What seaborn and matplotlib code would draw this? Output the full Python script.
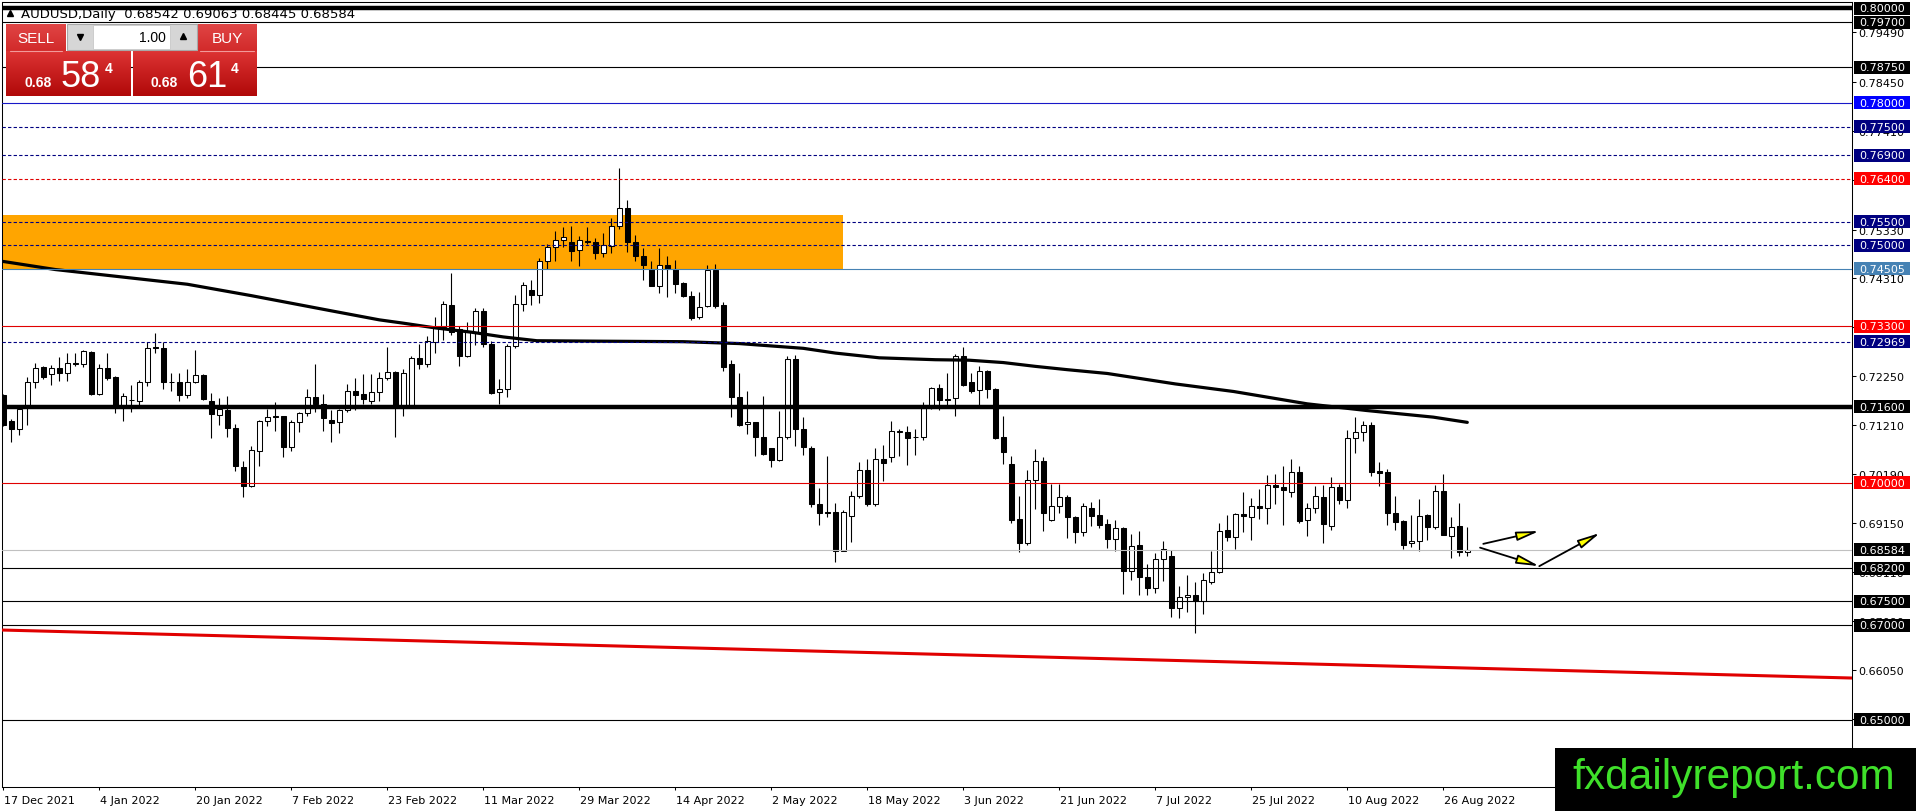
import matplotlib
matplotlib.use("Agg")
import matplotlib.pyplot as plt
import matplotlib.transforms as mtransforms
import matplotlib.colors as mcolors
from matplotlib.patches import Rectangle, FancyArrowPatch
import numpy as np
import pandas as pd
import seaborn as sns

# ---------------- data ----------------
header_text = "AUDUSD,Daily  0.68542 0.69063 0.68445 0.68584"

date_labels = ["17 Dec 2021", "4 Jan 2022", "20 Jan 2022", "7 Feb 2022", "23 Feb 2022",
               "11 Mar 2022", "29 Mar 2022", "14 Apr 2022", "2 May 2022", "18 May 2022",
               "3 Jun 2022", "21 Jun 2022", "7 Jul 2022", "25 Jul 2022", "10 Aug 2022",
               "26 Aug 2022"]
date_label_bars = [0, 12, 24, 36, 48, 60, 72, 84, 96, 108, 120, 132, 144, 156, 168, 180]

opens = [0.7185, 0.7130, 0.7112, 0.7162, 0.7213, 0.7244, 0.7228, 0.7241, 0.7232, 0.7253,
         0.7251, 0.7275, 0.7187, 0.7241, 0.7223, 0.7162, 0.7175, 0.7173, 0.7211, 0.7286,
         0.7284, 0.7212, 0.7211, 0.7185, 0.7211, 0.7227, 0.7173, 0.7143, 0.7153, 0.7116,
         0.7032, 0.6992, 0.7067, 0.7129, 0.7140, 0.7140, 0.7076, 0.7127, 0.7146, 0.7180,
         0.7166, 0.7133, 0.7127, 0.7152, 0.7194, 0.7186, 0.7171, 0.7190, 0.7220, 0.7234,
         0.7162, 0.7161, 0.7262, 0.7251, 0.7297, 0.7327, 0.7375, 0.7324, 0.7267, 0.7318,
         0.7361, 0.7292, 0.7190, 0.7197, 0.7287, 0.7376, 0.7405, 0.7396, 0.7466, 0.7496,
         0.7511, 0.7506, 0.7490, 0.7510, 0.7508, 0.7483, 0.7499, 0.7541, 0.7578, 0.7508,
         0.7478, 0.7451, 0.7415, 0.7459, 0.7450, 0.7421, 0.7394, 0.7348, 0.7373, 0.7449,
         0.7375, 0.7251, 0.7180, 0.7123, 0.7127, 0.7097, 0.7073, 0.7048, 0.7097, 0.7260,
         0.7113, 0.7073, 0.6955, 0.6939, 0.6939, 0.6857, 0.6929, 0.6972, 0.7027, 0.6955,
         0.7050, 0.7053, 0.7107, 0.7106, 0.7097, 0.7097, 0.7157, 0.7199, 0.7177, 0.7178,
         0.7266, 0.7213, 0.7195, 0.7236, 0.7197, 0.7097, 0.7039, 0.6923, 0.6872, 0.7005,
         0.7045, 0.6922, 0.6950, 0.6969, 0.6927, 0.6897, 0.6946, 0.6932, 0.6913, 0.6881,
         0.6904, 0.6814, 0.6869, 0.6802, 0.6777, 0.6839, 0.6845, 0.6735, 0.6758, 0.6763,
         0.6751, 0.6790, 0.6811, 0.6900, 0.6886, 0.6934, 0.6927, 0.6950, 0.6946, 0.6995,
         0.6990, 0.6980, 0.7022, 0.6922, 0.6946, 0.6969, 0.6909, 0.6990, 0.6964, 0.7093,
         0.7107, 0.7121, 0.7024, 0.7022, 0.6936, 0.6920, 0.6872, 0.6876, 0.6932, 0.6907,
         0.6982, 0.6888, 0.6908, 0.68542]
highs = [0.7186, 0.7134, 0.7161, 0.7223, 0.7253, 0.7246, 0.7248, 0.7264, 0.7274, 0.7274,
         0.7279, 0.7278, 0.7249, 0.7274, 0.7224, 0.7189, 0.7205, 0.7216, 0.7297, 0.7315,
         0.7297, 0.7230, 0.7230, 0.7239, 0.7279, 0.7228, 0.7189, 0.7178, 0.7182, 0.7123,
         0.7046, 0.7078, 0.7133, 0.7155, 0.7169, 0.7141, 0.7132, 0.7148, 0.7197, 0.7249,
         0.7186, 0.7152, 0.7156, 0.7208, 0.7220, 0.7228, 0.7228, 0.7234, 0.7285, 0.7236,
         0.7239, 0.7266, 0.7292, 0.7310, 0.7348, 0.7383, 0.7442, 0.7331, 0.7338, 0.7369,
         0.7369, 0.7299, 0.7218, 0.7292, 0.7395, 0.7422, 0.7427, 0.7473, 0.7503, 0.7531,
         0.7538, 0.7540, 0.7519, 0.7538, 0.7515, 0.7526, 0.7557, 0.7663, 0.7595, 0.7522,
         0.7494, 0.7466, 0.7494, 0.7477, 0.7469, 0.7423, 0.7404, 0.7401, 0.7459, 0.7461,
         0.7380, 0.7258, 0.7232, 0.7194, 0.7128, 0.7182, 0.7074, 0.7150, 0.7267, 0.7269,
         0.7138, 0.7078, 0.6988, 0.7057, 0.6957, 0.6942, 0.6983, 0.7043, 0.7050, 0.7074,
         0.7079, 0.7129, 0.7114, 0.7120, 0.7113, 0.7169, 0.7201, 0.7208, 0.7232, 0.7271,
         0.7285, 0.7232, 0.7246, 0.7238, 0.7199, 0.7140, 0.7057, 0.6971, 0.7027, 0.7071,
         0.7055, 0.6998, 0.6997, 0.6974, 0.6930, 0.6958, 0.6960, 0.6965, 0.6923, 0.6921,
         0.6906, 0.6892, 0.6899, 0.6828, 0.6851, 0.6878, 0.6859, 0.6783, 0.6805, 0.6790,
         0.6810, 0.6855, 0.6916, 0.6932, 0.6937, 0.6981, 0.6967, 0.6987, 0.7017, 0.7018,
         0.7034, 0.7050, 0.7036, 0.6958, 0.6992, 0.6994, 0.7011, 0.6998, 0.7111, 0.7138,
         0.7130, 0.7127, 0.7043, 0.7029, 0.6971, 0.6921, 0.6932, 0.6965, 0.6934, 0.6994,
         0.7019, 0.6927, 0.6958, 0.69063]
lows = [0.7120, 0.7085, 0.7100, 0.7122, 0.7199, 0.7218, 0.7206, 0.7215, 0.7215, 0.7246,
        0.7244, 0.7185, 0.7185, 0.7217, 0.7147, 0.7130, 0.7149, 0.7162, 0.7203, 0.7274,
        0.7197, 0.7194, 0.7171, 0.7179, 0.7210, 0.7175, 0.7093, 0.7122, 0.7097, 0.7025,
        0.6969, 0.6990, 0.7034, 0.7120, 0.7109, 0.7053, 0.7067, 0.7107, 0.7141, 0.7149,
        0.7109, 0.7086, 0.7104, 0.7148, 0.7152, 0.7166, 0.7166, 0.7173, 0.7217, 0.7097,
        0.7141, 0.7159, 0.7239, 0.7243, 0.7274, 0.7301, 0.7311, 0.7246, 0.7264, 0.7289,
        0.7285, 0.7187, 0.7166, 0.7181, 0.7283, 0.7362, 0.7375, 0.7378, 0.7450, 0.7468,
        0.7496, 0.7468, 0.7457, 0.7503, 0.7471, 0.7475, 0.7484, 0.7534, 0.7487, 0.7466,
        0.7428, 0.7414, 0.7400, 0.7392, 0.7399, 0.7392, 0.7343, 0.7345, 0.7371, 0.7367,
        0.7236, 0.7138, 0.7120, 0.7102, 0.7057, 0.7058, 0.7032, 0.7046, 0.7092, 0.7078,
        0.7058, 0.6948, 0.6911, 0.6928, 0.6832, 0.6855, 0.6874, 0.6967, 0.6951, 0.6951,
        0.7004, 0.7043, 0.7057, 0.7037, 0.7058, 0.7090, 0.7155, 0.7152, 0.7161, 0.7141,
        0.7203, 0.7189, 0.7164, 0.7178, 0.7092, 0.7039, 0.6915, 0.6853, 0.6869, 0.6944,
        0.6899, 0.6920, 0.6937, 0.6883, 0.6872, 0.6888, 0.6909, 0.6904, 0.6862, 0.6855,
        0.6765, 0.6795, 0.6764, 0.6764, 0.6767, 0.6793, 0.6716, 0.6714, 0.6728, 0.6684,
        0.6723, 0.6786, 0.6809, 0.6876, 0.6861, 0.6895, 0.6880, 0.6923, 0.6913, 0.6956,
        0.6911, 0.6970, 0.6914, 0.6888, 0.6937, 0.6872, 0.6900, 0.6954, 0.6946, 0.7062,
        0.7087, 0.7013, 0.6992, 0.6911, 0.6901, 0.6861, 0.6864, 0.6857, 0.6880, 0.6902,
        0.6890, 0.6841, 0.6846, 0.68445]
closes = [0.7122, 0.7112, 0.7156, 0.7213, 0.7242, 0.7223, 0.7241, 0.7232, 0.7253, 0.7250,
          0.7277, 0.7187, 0.7241, 0.7221, 0.7161, 0.7182, 0.7174, 0.7211, 0.7284, 0.7283,
          0.7211, 0.7211, 0.7185, 0.7211, 0.7226, 0.7177, 0.7145, 0.7155, 0.7116, 0.7034,
          0.6992, 0.7068, 0.7129, 0.7138, 0.7139, 0.7076, 0.7127, 0.7146, 0.7180, 0.7166,
          0.7137, 0.7126, 0.7152, 0.7194, 0.7185, 0.7177, 0.7190, 0.7220, 0.7234, 0.7160,
          0.7232, 0.7262, 0.7250, 0.7298, 0.7327, 0.7376, 0.7318, 0.7267, 0.7320, 0.7361,
          0.7292, 0.7189, 0.7197, 0.7287, 0.7376, 0.7416, 0.7396, 0.7466, 0.7496, 0.7511,
          0.7517, 0.7489, 0.7511, 0.7508, 0.7483, 0.7501, 0.7541, 0.7578, 0.7508, 0.7478,
          0.7459, 0.7415, 0.7459, 0.7450, 0.7418, 0.7394, 0.7347, 0.7371, 0.7449, 0.7373,
          0.7244, 0.7180, 0.7121, 0.7127, 0.7097, 0.7060, 0.7048, 0.7097, 0.7260, 0.7113,
          0.7076, 0.6954, 0.6937, 0.6937, 0.6857, 0.6939, 0.6972, 0.7027, 0.6955, 0.7050,
          0.7041, 0.7108, 0.7108, 0.7093, 0.7096, 0.7157, 0.7199, 0.7175, 0.7175, 0.7266,
          0.7206, 0.7194, 0.7236, 0.7197, 0.7095, 0.7065, 0.6922, 0.6872, 0.7005, 0.7045,
          0.6937, 0.6950, 0.6969, 0.6927, 0.6897, 0.6950, 0.6929, 0.6911, 0.6881, 0.6904,
          0.6814, 0.6866, 0.6802, 0.6778, 0.6839, 0.6860, 0.6735, 0.6760, 0.6763, 0.6751,
          0.6795, 0.6811, 0.6899, 0.6886, 0.6934, 0.6929, 0.6950, 0.6946, 0.6995, 0.6990,
          0.6985, 0.7022, 0.6920, 0.6946, 0.6971, 0.6913, 0.6990, 0.6964, 0.7093, 0.7107,
          0.7122, 0.7023, 0.7021, 0.6937, 0.6918, 0.6869, 0.6876, 0.6930, 0.6907, 0.6982,
          0.6890, 0.6906, 0.6853, 0.68584]

ma_bars = [0, 6.5, 23, 31, 41, 47, 50, 54, 58.5, 62.5, 66.7, 75, 85, 92, 100, 104, 109.5,
           116.5, 120.7, 125, 129, 133, 138, 146.5, 153.8, 163, 170.4, 178.75, 183]
ma_vals = [0.7466, 0.7449, 0.7418, 0.7394, 0.7362, 0.7343, 0.7336, 0.7326, 0.7317, 0.7307,
           0.7299, 0.7298, 0.7297, 0.7293, 0.7283, 0.7273, 0.7263, 0.7259, 0.7258, 0.7253,
           0.7245, 0.7238, 0.7230, 0.7208, 0.7192, 0.7166, 0.7152, 0.7138, 0.7127]

trend_bars = [-1, 231.1]
trend_vals = [0.66898, 0.65883]

zone_bars = [-1, 104.96]
zone_prices = [0.74505, 0.75639]

level_prices = [0.80000, 0.79700, 0.78750, 0.78000, 0.77500, 0.76900, 0.76400, 0.75500,
                0.75000, 0.74505, 0.73300, 0.72969, 0.71600, 0.70000, 0.68584, 0.68200,
                0.67500, 0.67000, 0.65000]
level_line_colors = ["black", "black", "black", "#1818C8", "#000080", "#000080", "#E00000",
                     "#000080", "#000080", "#4682B4", "#E00000", "#000080", "black",
                     "#E00000", "#C0C0C0", "black", "black", "black", "black"]
level_dashed = [False, False, False, False, True, True, True, True, True, False, False, True,
                False, False, False, False, False, False, False]
level_thick = [True, False, False, False, False, False, False, False, False, False, False,
               False, True, False, False, False, False, False, False]
level_label_bg = ["black", "black", "black", "#0000FF", "#000080", "#000080", "#FF0000",
                  "#000080", "#000080", "#4682B4", "#FF0000", "#000080", "black", "#FF0000",
                  "black", "black", "black", "black", "black"]

axis_ticks = [0.79490, 0.78450, 0.77410, 0.76370, 0.75330, 0.74310, 0.73270, 0.72250,
              0.71210, 0.70190, 0.69150, 0.68110, 0.67090, 0.66050, 0.65010]

arrow_starts = [(185.0, 0.6871), (184.6, 0.6863), (192.0, 0.6824)]
arrow_ends = [(192.0, 0.6898), (192.0, 0.6824), (199.6, 0.6894)]

sell_price = ("0.68", "58", "4")
buy_price = ("0.68", "61", "4")
lot_size = "1.00"
watermark = "fxdailyreport.com"

# ---------------- figure ----------------
sns.set_theme(style="white")
plt.rcParams["font.family"] = ["DejaVu Sans"]
plt.rcParams["axes.edgecolor"] = "black"

W, H = 1916, 812
fig = plt.figure(figsize=(W / 100, H / 100), dpi=100, facecolor="white")
ax = fig.add_axes([2 / W, 1 - 788 / H, (1852 - 2) / W, (788 - 3) / H])
ov = fig.add_axes([0, 0, 1, 1], zorder=10)
ov.set_xlim(0, W)
ov.set_ylim(H, 0)
ov.set_autoscale_on(False)
ov.axis("off")
ov.patch.set_alpha(0)

ax.set_facecolor("white")
for sp in ax.spines.values():
    sp.set_color("black")
    sp.set_linewidth(0.75)

df = pd.DataFrame({"o": opens, "h": highs, "l": lows, "c": closes})
df["bar"] = np.arange(len(df))
bull = df["c"] >= df["o"]

# orange zone
ax.add_patch(Rectangle((zone_bars[0], zone_prices[0]), zone_bars[1] - zone_bars[0],
                       zone_prices[1] - zone_prices[0], facecolor="#FFA500",
                       edgecolor="none", zorder=1))

# candles
ax.vlines(df["bar"], df["l"], df["h"], color="black", lw=0.8, zorder=3)
body_lo = np.minimum(df["o"], df["c"])
body_h = np.maximum(np.abs(df["c"] - df["o"]), 0.00008)
ax.bar(df["bar"][bull], body_h[bull], bottom=body_lo[bull], width=0.6,
       color="white", edgecolor="black", linewidth=0.75, zorder=3.2)
ax.bar(df["bar"][~bull], body_h[~bull], bottom=body_lo[~bull], width=0.6,
       color="black", edgecolor="black", linewidth=0.75, zorder=3.2)

# moving average and trend line
sns.lineplot(x=ma_bars, y=ma_vals, ax=ax, color="black", lw=2.3, estimator=None,
             zorder=4)
sns.lineplot(x=trend_bars, y=trend_vals, ax=ax, color="#E00000", lw=2.2,
             estimator=None, zorder=4)

# horizontal levels
for p, col, dsh, thk in zip(level_prices, level_line_colors, level_dashed, level_thick):
    ax.axhline(p, color=col, lw=3.2 if thk else 0.8,
               linestyle=(0, (3, 2)) if dsh else "-", zorder=5)

# arrows
for (x0, y0), (x1, y1) in zip(arrow_starts, arrow_ends):
    ax.add_patch(FancyArrowPatch((x0, y0), (x1, y1),
                                 arrowstyle="-|>,head_length=1.35,head_width=0.27",
                                 mutation_scale=10, shrinkA=0, shrinkB=0,
                                 facecolor="#FFFF00", edgecolor="black", lw=1.3,
                                 zorder=6, clip_on=False))

ax.set_xlim(-0.1625, 231.09)
ax.set_ylim(0.63587, 0.80127)

# axes ticks
ax.yaxis.tick_right()
ax.set_yticks(axis_ticks)
ax.set_yticklabels([f"{v:.5f}" for v in axis_ticks])
ax.tick_params(axis="y", which="major", right=True, left=False, direction="out",
               length=3, width=0.75, pad=1.8, labelsize=8, colors="black")
ax.set_xticks(date_label_bars)
ax.set_xticklabels(date_labels)
ax.tick_params(axis="x", which="major", bottom=True, direction="out", length=2.5,
               width=0.75, pad=3, labelsize=8, colors="black")
offs = mtransforms.ScaledTranslation(1 / 100, 0, fig.dpi_scale_trans)
for lbl in ax.get_xticklabels():
    lbl.set_horizontalalignment("left")
    lbl.set_transform(lbl.get_transform() + offs)
ax.set_xlabel("")
ax.set_ylabel("")
ax.grid(False)

# coloured price labels on the right axis
blend = mtransforms.blended_transform_factory(ov.transData, ax.transData)
half = 6.5 / 4746
for p, bg in zip(level_prices, level_label_bg):
    ax.add_patch(Rectangle((1854, p - half), 56, 2 * half, transform=blend,
                           facecolor=bg, edgecolor="none", zorder=7, clip_on=False))
    ax.text(1859, p, f"{p:.5f}", transform=blend, color="white", fontsize=8,
            ha="left", va="center", zorder=8, clip_on=False)

# header (partly hidden under the 0.80 line)
ax.text(21, 18, header_text, transform=ov.transData, fontsize=9.5, color="black",
        ha="left", va="baseline", zorder=1.5, clip_on=False)
ax.plot([10], [14], marker="^", ms=5, color="black", transform=ov.transData,
        zorder=1.5, clip_on=False)

# ---------------- one-click trading panel ----------------
def grad_rect(x0, y0, x1, y1, c_top, c_bot):
    t = np.linspace(0, 1, 64)[:, None]
    a = np.array(mcolors.to_rgb(c_top))
    b = np.array(mcolors.to_rgb(c_bot))
    img = (a * (1 - t) + b * t)[:, None, :]
    ov.imshow(img, extent=(x0, x1, y1, y0), origin="upper", aspect="auto",
              interpolation="bilinear", zorder=1)

grad_rect(6, 25, 66, 52, "#E04545", "#D22A2A")
grad_rect(197, 25, 257, 52, "#E04545", "#D22A2A")
grad_rect(6, 52, 131, 97, "#DD3434", "#B00808")
grad_rect(133, 52, 257, 97, "#DD3434", "#B00808")
ov.plot([10, 62], [52, 52], color="#F29A9A", lw=0.8, zorder=2)
ov.plot([200, 254], [52, 52], color="#F29A9A", lw=0.8, zorder=2)
ov.add_patch(Rectangle((67, 25), 130, 26, facecolor="#D6D6D6", edgecolor="#A8A8A8",
                       lw=0.8, zorder=2))
ov.add_patch(Rectangle((93, 26), 77, 24, facecolor="white", edgecolor="#C8C8C8",
                       lw=0.6, zorder=2))
ov.plot([80], [38], marker="v", ms=4, color="black", zorder=3)
ov.plot([183], [37], marker="^", ms=4, color="black", zorder=3)
ov.text(166, 38, lot_size, fontsize=10, color="black", ha="right", va="center",
        family=["Liberation Sans", "DejaVu Sans"], zorder=3)
ov.text(36, 39, "SELL", fontsize=11, color="white", ha="center", va="center",
        family=["Liberation Sans", "DejaVu Sans"], zorder=3)
ov.text(227, 39, "BUY", fontsize=11, color="white", ha="center", va="center",
        family=["Liberation Sans", "DejaVu Sans"], zorder=3)

for (small, big, sup), xs in zip([sell_price, buy_price], [(25, 61, 105), (151, 187, 231)]):
    ov.text(xs[0], 87, small, fontsize=10, fontweight="bold", color="white", ha="left",
            va="baseline", family=["Liberation Sans", "DejaVu Sans"], zorder=3)
    ov.text(xs[1], 87, big, fontsize=26, color="white", ha="left", va="baseline",
            family=["Liberation Sans", "DejaVu Sans"], zorder=3)
    ov.text(xs[2], 62, sup, fontsize=10, fontweight="bold", color="white", ha="left",
            va="top", family=["Liberation Sans", "DejaVu Sans"], zorder=3)

# ---------------- watermark ----------------
ov.add_patch(Rectangle((1555, 749), W - 1555, H - 749, facecolor="black",
                       edgecolor="none", zorder=4))
ov.text(1572, 789, watermark, fontsize=30.5, color="#3FE02A", ha="left", va="baseline",
        family=["Liberation Sans", "DejaVu Sans"], zorder=5)

fig.savefig("out.png", dpi=100, facecolor="white")
